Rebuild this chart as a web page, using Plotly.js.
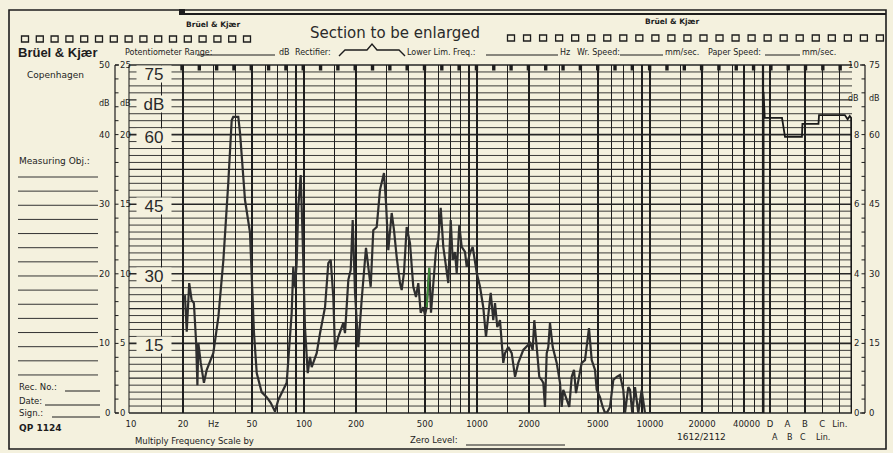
<!DOCTYPE html>
<html><head><meta charset="utf-8">
<script src="https://cdn.plot.ly/plotly-3.0.1.min.js"></script>
<style>html,body{margin:0;padding:0;background:#f4f1de}#chart{width:893px;height:453px}</style>
</head><body><div id="chart"></div>
<script>
// ---- data (frequency in Hz, level on the 75 dB scale) ----
const freqHz = [20.5,21.0,21.7,22.4,23.1,23.8,24.2,24.5,25.3,26.4,
27.4,29.9,32.0,34.2,36.5,38.2,39.0,41.7,42.7,45.6,
48.7,51.4,53.3,56.9,60.9,64.2,68.0,71.0,75.9,79.4,
84.9,86.7,88.7,90.7,92.7,95.7,98.3,101.3,105.1,108.3,
110.8,118.4,123.8,132.3,138.2,142.7,147.7,151.1,157.9,168.7,
172.6,180.4,186.2,191.2,197.2,206.0,215.5,228.2,235.3,242.9,
251.5,263.2,275.0,290.0,297.9,307.1,321.3,331.3,343.4,358.8,
367.0,378.4,392.3,409.9,428.3,444.0,457.8,472.7,489.3,500.5,
511.9,530.0,542.1,559.0,579.4,597.4,616.8,638.6,668.2,682.5,
704.7,723.6,746.1,763.3,790.1,815.8,852.4,872.0,911.0,944.3,
964.7,996.1,1041,1087,1127,1162,1200,1242,1271,1310,
1358,1419,1452,1517,1587,1659,1733,1852,1920,2025,
2099,2144,2214,2291,2366,2417,2472,2529,2583,2642,
2739,2889,3019,3087,3153,3300,3416,3527,3637,3735,
3851,4029,4210,4440,4603,4810,4919,5140,5329,5494,
5665,5872,6136,6420,6708,7010,7170,7492,7663,7902,
8190,8559,8954,9358,9570,45000];
const levelDb = [25.4,17.5,28.0,24.4,23.7,15.1,6.0,15.1,10.8,6.5,
9.3,12.9,20.7,33.0,49.6,63.1,63.8,63.8,60.3,45.9,
39.0,17.2,8.6,4.5,3.4,2.2,0.3,2.8,5.0,6.5,
21.6,31.5,27.2,32.3,44.4,51.3,37.3,18.5,8.6,12.1,
9.9,12.9,17.2,22.8,32.3,33.0,25.0,13.6,16.4,19.4,
17.2,28.7,30.8,41.6,25.9,14.2,24.4,35.6,31.5,27.2,
39.4,40.1,48.1,51.7,45.3,35.1,43.1,39.4,33.6,28.0,
26.5,30.2,40.1,36.6,27.2,25.0,28.0,21.6,22.8,21.1,
22.8,31.3,21.6,27.2,35.1,37.3,44.2,35.8,30.8,28.0,
41.6,33.0,34.7,30.2,40.5,35.8,34.7,31.5,34.5,35.8,
33.6,30.2,27.2,22.8,16.4,20.7,25.9,20.0,23.7,18.5,
20.0,10.8,12.9,14.2,12.9,7.8,10.8,13.6,14.2,15.1,
13.6,20.0,14.2,7.8,7.1,6.5,1.3,12.9,14.2,19.4,
14.2,10.8,6.5,1.3,5.0,2.8,1.3,7.8,9.3,4.3,
7.1,10.8,11.4,18.3,11.4,9.3,5.0,3.4,1.3,0,
0.2,1.3,7.1,7.8,8.2,5.0,0,5.6,5.0,0,
5.6,0,5.0,0,0,0];
// short green-pen segment
const greenHz = [511.9, 530.0];
const greenDb = [22.8, 31.3];
// weighted-level panel (D=0, A=1, B=2, C=3, Lin.=4)
const weightLabels = ['D','A','B','C','Lin.'];
const weightPos = [-0.37,-0.37,-0.3,0.69,0.86,1.83,1.86,2.78,2.81,4.29,4.45,4.57,4.65,4.67];
const weightDb  = [0,69.2,63.6,63.6,59.5,59.5,62.3,62.3,64.2,64.2,63.3,64.0,63.6,0];
// frequency grid and labels
const freqGrid = [10,15,20,30,40,50,60,70,80,90,100,150,200,300,400,500,600,700,800,900,
1000,1500,2000,3000,4000,5000,6000,7000,8000,9000,10000,15000,20000,25000,30000,35000,40000,45000];
const freqLabels = {10:'10',20:'20',30:'Hz',50:'50',100:'100',200:'200',500:'500',1000:'1000',
2000:'2000',5000:'5000',10000:'10000',20000:'20000'};
const lastFreqLabel = '40000';   // printed just left of its grid line, before the D column
const scale75 = ['75','60','45','30','15'];
const scale50 = ['50','40','30','20','10','0'];
const scale25 = ['25','20','15','10','5','0'];
const scale10 = ['10','8','6','4','2','0'];
const scale75r = ['75','60','45','30','15','0'];
const secondRow = ['A','B','C','Lin.'];

// ---- layout helpers ----
const INK = '#1d1d1d', PAPER = '#f4f1de', GRID = '#262626';
const W = 893, H = 453, PL = 131, PR = 852, PT = 65, PB = 413;
const px = x => (x - PL) / (PR - PL);
const py = y => (PB - y) / (PB - PT);
const dbY = v => PB - v * (PB - PT) / 75;       // 75 dB scale -> pixel row
function L(x0,y0,x1,y1,w,c,layer){ return {type:'line',xref:'paper',yref:'paper',x0:px(x0),y0:py(y0),x1:px(x1),y1:py(y1),line:{color:c||INK,width:w||1},layer:layer||'below'}; }
function R(x0,y0,x1,y1,fill,w){ return {type:'rect',xref:'paper',yref:'paper',x0:px(x0),y0:py(y0),x1:px(x1),y1:py(y1),line:{color:INK,width:fill?0:(w||1.2)},fillcolor:fill?INK:'rgba(0,0,0,0)',layer:'above'}; }
function A(x,y,text,o){ o=o||{}; const f=Object.assign({family:'DejaVu Sans',size:8.5,color:INK},o.font||{}); delete o.font;
  return Object.assign({xref:'paper',yref:'paper',x:px(x),y:py(y),text:text,showarrow:false,xanchor:'left',yanchor:'middle',font:f},o); }

const shapes = [], ann = [];
// frame
shapes.push(R(9,10,886,449,false,1.6));
shapes.push(L(183,14,886,14,2.2,INK,'above'));
shapes.push(R(179,9,185,15,true));
// horizontal grid (every 1.5 dB of the 75 dB scale)
for (let i=0;i<=50;i++){ const y=dbY(i*1.5); shapes.push(L(129,y,852,y, i%10===0?1.6:(i%5===0?1.2:0.9), GRID)); }
shapes.push(L(129,PT,129,PB,1.1,GRID));
// panel border between frequency and weighting sections
shapes.push(L(763,PT,763,PB,2.2,INK,'above'));
// time marks along the top
for (let k=0;k<=38;k++){ const x=182+k*17.32; shapes.push(R(x-1.7,PT,x+1.7,PT+5.5,true)); }
// sprocket squares
for (let k=0;k<16;k++){ const x=25+k*14.8; shapes.push(R(x-3.5,36,x+3.5,42,false,1.3)); }
for (let k=0;k<24;k++){ const x=511+k*16.04; shapes.push(R(x-3.5,35,x+3.5,41,false,1.3)); }
// left text lines
for (let k=0;k<15;k++){ const y=177+k*14.14; shapes.push(L(18,y,98,y,1,'#333')); }
shapes.push(L(65,391,100,391,1)); shapes.push(L(45,405,100,405,1)); shapes.push(L(52,417,100,417,1));
// header underlines
shapes.push(L(197,55,275,55,1)); shapes.push(L(486,55,558,55,1)); shapes.push(L(620,55,663,55,1)); shapes.push(L(765,55,800,55,1));
shapes.push(L(466,445,565,445,1));
// rectifier bracket
shapes.push({type:'path',xref:'paper',yref:'paper',layer:'above',line:{color:INK,width:1.4},
  path:`M ${px(339)},${py(56)} L ${px(345)},${py(50)} L ${px(367)},${py(50)} L ${px(372)},${py(44)} L ${px(377)},${py(50)} L ${px(399)},${py(50)} L ${px(405)},${py(56)}`});
// left dB scales
shapes.push(L(115,PT,115,PB,1.2)); shapes.push(L(115,PT,119,PT,1.2)); shapes.push(L(115,PB,119,PB,1.2));
for (let k=0;k<=25;k++){ const y=dbY(k*3); shapes.push(L(115,y,118.5,y,1)); }
// right dB scales
shapes.push(L(865,PT,865,PB,1.2)); shapes.push(L(860,PT,865,PT,1.2)); shapes.push(L(860,PB,865,PB,1.2));
for (let k=0;k<=25;k++){ const y=dbY(k*3); shapes.push(L(861.5,y,865,y,1)); }

// texts
ann.push(A(213,24,'<b>Brüel & Kjær</b>',{xanchor:'center',font:{size:7.5}}));
ann.push(A(672,22,'<b>Brüel & Kjær</b>',{xanchor:'center',font:{size:7.5}}));
ann.push(A(395,33,'Section to be enlarged',{xanchor:'center',font:{size:15,color:'#2a2a2a'}}));
ann.push(A(16,52,'<b>Brüel & Kjær</b>',{font:{family:'Liberation Sans',size:13}}));
ann.push(A(25,75,'Copenhagen',{font:{size:9}}));
[[123,'Potentiometer Range:'],[277,'dB'],[293,'Rectifier:'],[405,'Lower Lim. Freq.:'],[558,'Hz'],
 [575,'Wr. Speed:'],[663,'mm/sec.'],[706,'Paper Speed:'],[800,'mm/sec.']].forEach(t=>ann.push(A(t[0],53,t[1],{font:{size:8}})));
ann.push(A(17,161,'Measuring Obj.:',{font:{size:9}}));
ann.push(A(17,387,'Rec. No.:',{font:{size:8.5}}));
ann.push(A(17,401,'Date:',{font:{size:8.5}}));
ann.push(A(17,413,'Sign.:',{font:{size:8.5}}));
ann.push(A(17,428,'<b>QP 1124</b>',{font:{size:9}}));
ann.push(A(133,441,'Multiply Frequency Scale by',{font:{size:8.5}}));
ann.push(A(408,440,'Zero Level:',{font:{size:8.5}}));
ann.push(A(701,437,'1612/2112',{xanchor:'center',font:{size:9}}));
[775,790,803,823].forEach((x,i)=>ann.push(A(x,437.5,secondRow[i],{xanchor:'center',font:{size:8}})));
ann.push(A(762,423.5,lastFreqLabel,{xanchor:'right',font:{size:8.5}}));
// left scale labels
scale50.forEach(s=>ann.push(A(112,dbY(+s*1.5),s,{xanchor:'right',font:{size:8.5}})));
scale25.forEach(s=>ann.push(A(117.5,dbY(+s*3),s,{font:{size:8.5}})));
ann.push(A(112,103,'dB',{xanchor:'right',font:{size:8}})); ann.push(A(117.5,103,'dB',{font:{size:8}}));
// right scale labels
scale10.forEach(s=>ann.push(A(861,dbY(+s*7.5),s,{xanchor:'right',font:{size:8.5}})));
scale75r.forEach(s=>ann.push(A(867,dbY(+s),s,{font:{size:8.5}})));
ann.push(A(861,98,'dB',{xanchor:'right',font:{size:8}})); ann.push(A(867,98,'dB',{font:{size:8}}));
// large 75 dB scale labels over the grid
const big = {xanchor:'center',bgcolor:PAPER,width:34,height:16,borderpad:0,font:{family:'Liberation Sans',size:17,color:'#2a2a2a'}};
scale75.forEach(s=>ann.push(A(154,Math.max(dbY(+s)+2,74),s,JSON.parse(JSON.stringify(big)))));
ann.push(A(154,104,'dB',JSON.parse(JSON.stringify(big))));

const traces = [
  {x:freqHz,y:levelDb,type:'scatter',mode:'lines',xaxis:'x',yaxis:'y',line:{color:'#2e2e2e',width:2.2},hoverinfo:'skip'},
  {x:greenHz,y:greenDb,type:'scatter',mode:'lines',xaxis:'x',yaxis:'y',line:{color:'#3f8f3a',width:1.8},hoverinfo:'skip'},
  {x:weightPos,y:weightDb,type:'scatter',mode:'lines',xaxis:'x2',yaxis:'y',line:{color:'#1a1a1a',width:1.8},hoverinfo:'skip'}
];
const tickFont = {family:'DejaVu Sans',size:8.5,color:INK};
const layout = {
  width:W,height:H,margin:{l:PL,r:W-PR,t:PT,b:H-PB,pad:0},
  paper_bgcolor:PAPER,plot_bgcolor:'rgba(0,0,0,0)',showlegend:false,
  xaxis:{type:'log',range:[1,Math.log10(45000)],domain:[0,px(763)],tickvals:freqGrid,
    ticktext:freqGrid.map(v=>freqLabels[v]||''),tickangle:0,showgrid:true,gridcolor:'#1e1e1e',gridwidth:1.3,
    zeroline:false,showline:false,ticks:'',tickfont:tickFont,ticklabelstandoff:4,fixedrange:true},
  xaxis2:{range:[-0.4,4.7],domain:[px(763),1],anchor:'y',tickvals:[0,1,2,3,4],ticktext:weightLabels,tickangle:0,
    showgrid:true,gridcolor:'#1e1e1e',gridwidth:1.3,zeroline:false,showline:false,ticks:'',tickfont:tickFont,ticklabelstandoff:4},
  yaxis:{range:[0,75],showgrid:false,zeroline:false,showticklabels:false,ticks:'',showline:false},
  shapes:shapes,annotations:ann
};
Plotly.newPlot('chart',traces,layout,{staticPlot:true,displayModeBar:false});
</script></body></html>
